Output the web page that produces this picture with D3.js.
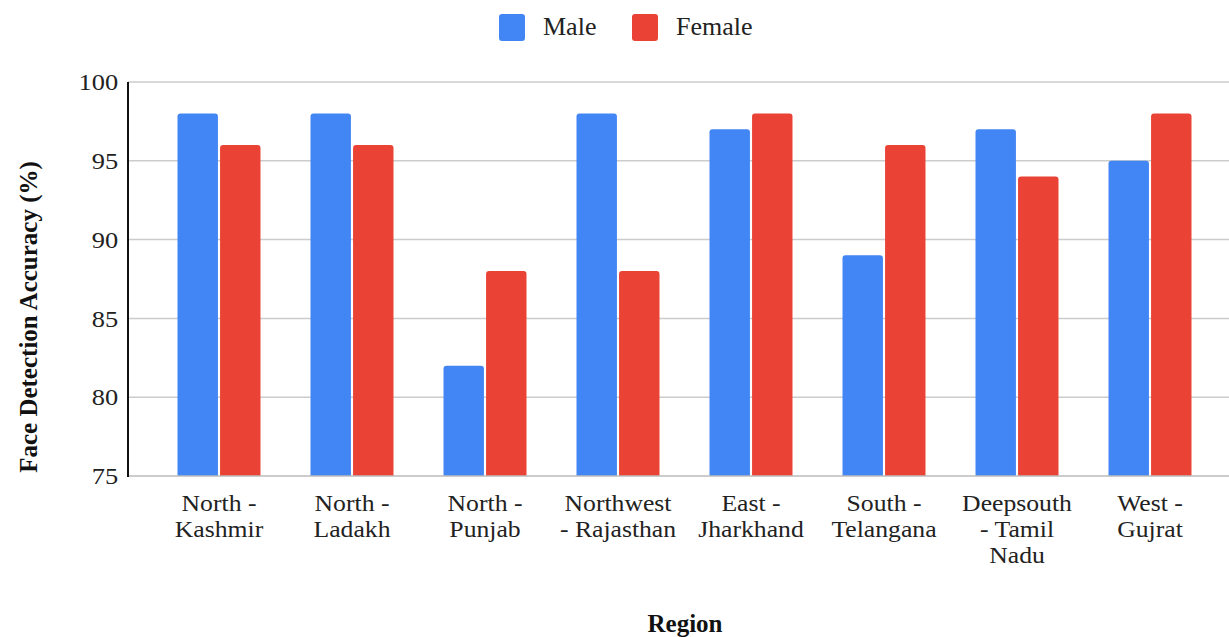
<!DOCTYPE html>
<html>
<head>
<meta charset="utf-8">
<script src="https://cdn.jsdelivr.net/npm/d3@7/dist/d3.min.js"></script>
<style>
  html, body { margin: 0; padding: 0; background: #fff; }
  svg { display: block; font-family: "Liberation Serif", "Times New Roman", serif; }
</style>
</head>
<body>
<svg id="chart" width="1229" height="637"></svg>
<script>
// Regions (line breaks mark how each tick label wraps)
const categories = [
  "North -\nKashmir",
  "North -\nLadakh",
  "North -\nPunjab",
  "Northwest\n- Rajasthan",
  "East -\nJharkhand",
  "South -\nTelangana",
  "Deepsouth\n- Tamil\nNadu",
  "West -\nGujrat"
];
const seriesNames = ["Male", "Female"];
const maleValues   = [98, 98, 82, 98, 97, 89, 97, 95];
const femaleValues = [96, 96, 88, 88, 98, 96, 94, 98];
const yTicks = [75, 80, 85, 90, 95, 100];
const colors = ["#4285F4", "#EA4335"];

const svg = d3.select("#chart");
const W = 1229;
const axisX = 128, plotTop = 82, plotBottom = 476;

const x = d3.scaleBand().domain(categories).range([152.5, 1216.5])
  .paddingInner(0.376).paddingOuter(0.188);
const xSeries = d3.scaleBand().domain(seriesNames).range([0, x.bandwidth()]).paddingInner(0.05);
const y = d3.scaleLinear().domain([75, 100]).range([plotBottom, plotTop]);

// Gridlines
svg.append("g")
  .selectAll("line")
  .data(yTicks.filter(t => t !== 75))
  .join("line")
  .attr("x1", axisX).attr("x2", W)
  .attr("y1", d => y(d)).attr("y2", d => y(d))
  .attr("stroke", "#cccccc").attr("stroke-width", 1.5);

// Y tick labels
const yAxis = svg.append("g")
  .attr("transform", `translate(${axisX},0)`)
  .call(d3.axisLeft(y).tickValues(yTicks).tickSize(0).tickPadding(10));
yAxis.select(".domain").remove();
yAxis.selectAll("text")
  .attr("font-family", "Liberation Serif, serif")
  .attr("font-size", 24)
  .attr("transform", "scale(1.1,1)")
  .attr("x", -9)
  .attr("fill", "#222");

// Bars
const rows = categories.map((c, i) => ({ cat: c, vals: [maleValues[i], femaleValues[i]] }));
function topRounded(x0, y0, w, h, r) {
  r = Math.min(r, h, w / 2);
  return `M${x0},${y0 + h}V${y0 + r}Q${x0},${y0} ${x0 + r},${y0}H${x0 + w - r}Q${x0 + w},${y0} ${x0 + w},${y0 + r}V${y0 + h}Z`;
}
svg.append("g")
  .selectAll("g")
  .data(rows)
  .join("g")
  .attr("transform", d => `translate(${x(d.cat)},0)`)
  .selectAll("path")
  .data(d => d.vals.map((v, k) => ({ name: seriesNames[k], v, k })))
  .join("path")
  .attr("d", d => topRounded(xSeries(d.name), y(d.v), xSeries.bandwidth(), y(75) - y(d.v), 3))
  .attr("fill", d => colors[d.k]);

// Bottom baseline
svg.append("line")
  .attr("x1", axisX).attr("x2", W)
  .attr("y1", plotBottom).attr("y2", plotBottom)
  .attr("stroke", "#bbbbbb").attr("stroke-width", 1.5);

// Left axis line
svg.append("line")
  .attr("x1", axisX).attr("x2", axisX)
  .attr("y1", plotTop).attr("y2", plotBottom + 1)
  .attr("stroke", "#111").attr("stroke-width", 2);

// X tick labels (wrapped, one text per line)
const xAxis = svg.append("g")
  .attr("transform", `translate(0,${plotBottom})`)
  .call(d3.axisBottom(x).tickSize(0).tickFormat(() => ""));
xAxis.select(".domain").remove();
xAxis.selectAll(".tick").each(function(d) {
  const g = d3.select(this);
  d.split("\n").forEach((line, i) => {
    g.append("text")
      .attr("text-anchor", "middle")
      .attr("font-family", "Liberation Serif, serif")
      .attr("font-size", 24)
      .attr("transform", "scale(1.07,1)")
      .attr("fill", "#222")
      .attr("x", 0).attr("y", 35 + i * 26)
      .text(line);
  });
});

// Axis titles
svg.append("text")
  .attr("x", 685).attr("y", 632)
  .attr("text-anchor", "middle")
  .attr("font-size", 25).attr("font-weight", "bold").attr("fill", "#111")
  .text("Region");
svg.append("text")
  .attr("transform", `translate(37,${(plotTop + plotBottom) / 2 + 38}) rotate(-90)`)
  .attr("text-anchor", "middle")
  .attr("font-size", 25).attr("font-weight", "bold").attr("fill", "#111")
  .text("Face Detection Accuracy (%)");

// Legend
const legendPos = [499, 632];
const legend = svg.append("g");
seriesNames.forEach((name, k) => {
  const g = legend.append("g").attr("transform", `translate(${legendPos[k]},14)`);
  g.append("rect").attr("width", 26).attr("height", 27).attr("rx", 3).attr("fill", colors[k]);
  g.append("text").attr("x", 44).attr("y", 21)
    .attr("font-size", 26).attr("fill", "#222").text(name);
});
</script>
</body>
</html>
